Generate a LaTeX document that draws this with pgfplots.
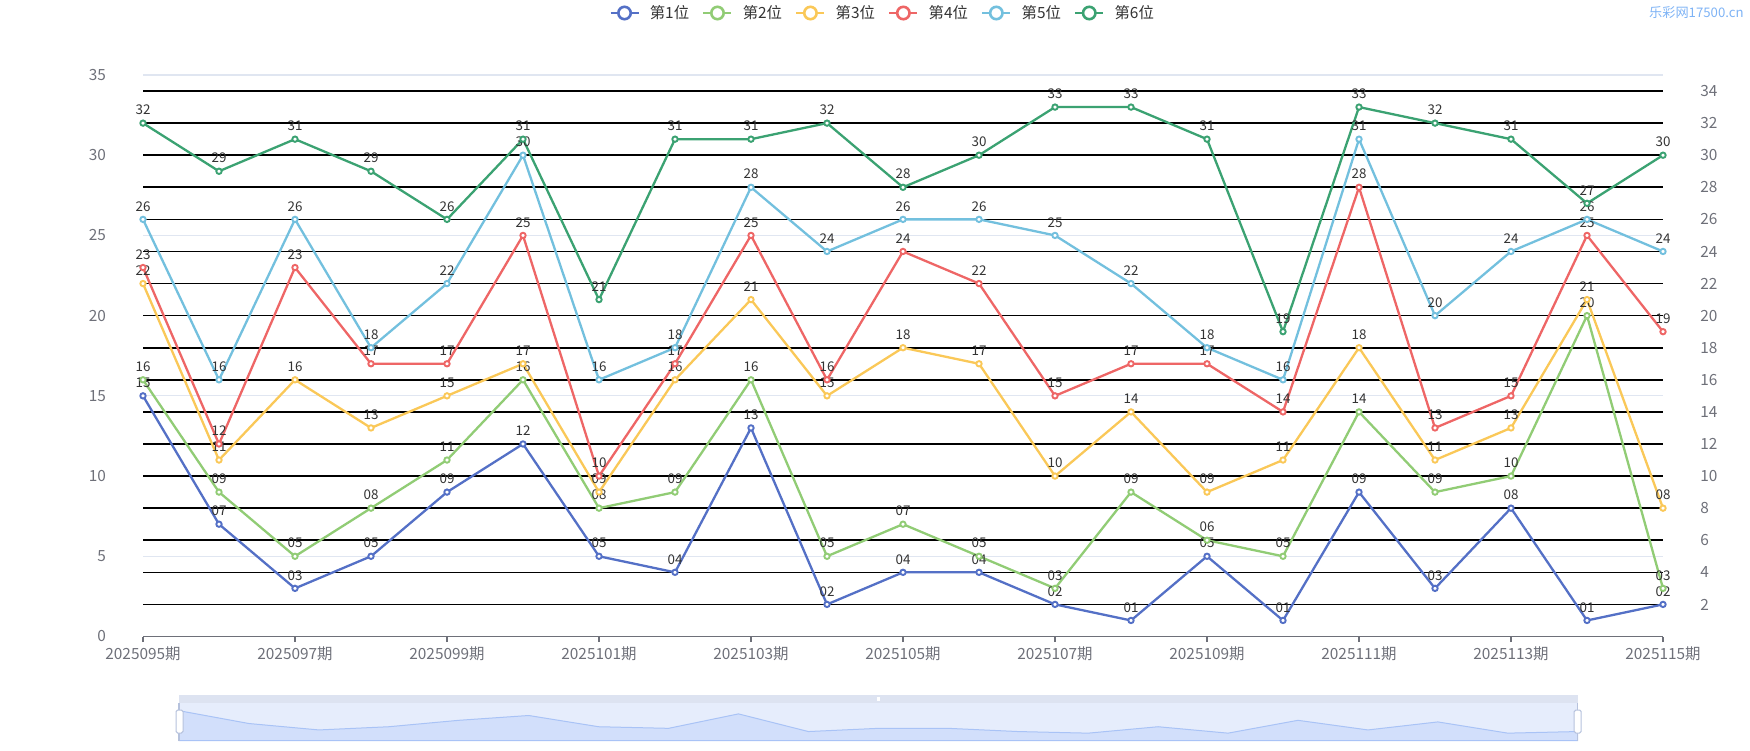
\documentclass[border=0pt]{standalone}
\usepackage{fontspec}
\setmainfont{Noto Sans CJK SC}
\usepackage{pgfplots}
\pgfplotsset{compat=1.18}
\usepackage{pgfplotstable}

\definecolor{c1}{HTML}{5470C6}
\definecolor{c2}{HTML}{91CC75}
\definecolor{c3}{HTML}{FAC858}
\definecolor{c4}{HTML}{EE6666}
\definecolor{c5}{HTML}{73C0DE}
\definecolor{c6}{HTML}{3BA272}
\definecolor{axisgray}{HTML}{6E7079}
\definecolor{gridgray}{HTML}{E0E6F1}
\definecolor{labelgray}{HTML}{333333}
\definecolor{wm}{HTML}{7EB3F5}
\definecolor{dzbar}{HTML}{DDE3F1}
\definecolor{dzbg}{HTML}{E6EDFC}
\definecolor{dzfill}{HTML}{D2DFFB}
\definecolor{dzline}{HTML}{A9C3F6}
\definecolor{dzedge}{HTML}{B6C2DD}

\pgfplotstableread{
x a b c d e f
0 15 16 22 23 26 32
1 7 9 11 12 16 29
2 3 5 16 23 26 31
3 5 8 13 17 18 29
4 9 11 15 17 22 26
5 12 16 17 25 30 31
6 5 8 9 10 16 21
7 4 9 16 17 18 31
8 13 16 21 25 28 31
9 2 5 15 16 24 32
10 4 7 18 24 26 28
11 4 5 17 22 26 30
12 2 3 10 15 25 33
13 1 9 14 17 22 33
14 5 6 9 17 18 31
15 1 5 11 14 16 19
16 9 14 18 28 31 33
17 3 9 11 13 20 32
18 8 10 13 15 24 31
19 1 20 21 25 26 27
20 2 3 8 19 24 30
}\data

\pgfplotsset{
  ser/.style={color=#1, line width=1.15pt, mark=*, mark size=1.35pt,
    mark options={fill=white, draw=#1, line width=0.95pt, solid}},
}
\newcommand{\tickfont}{\fontsize{7.7}{9}\selectfont}

\begin{document}
\begin{tikzpicture}
\useasboundingbox (0,0) rectangle (875pt,375pt);

% background axis: left y labels, light grid, x axis
\begin{axis}[
  at={(71.5pt,56.75pt)}, anchor=south west,
  scale only axis, width=760pt, height=280.75pt,
  xmin=0, xmax=20, ymin=0, ymax=35,
  axis x line*=bottom, axis y line*=left,
  x axis line style={draw=axisgray, line width=0.55pt, -},
  y axis line style={draw=none},
  xtick={0,2,...,20},
  xticklabels={2025095期,2025097期,2025099期,2025101期,2025103期,2025105期,2025107期,2025109期,2025111期,2025113期,2025115期},
  xtick style={draw=axisgray, line width=0.55pt},
  ytick={0,5,...,35},
  ytick style={draw=none},
  tick align=outside,
  major tick length=2.8pt,
  ymajorgrids, grid style={draw=gridgray, line width=0.55pt},
  tick label style={font=\tickfont, text=axisgray, inner sep=0pt},
  xticklabel style={anchor=north, yshift=-2pt},
  yticklabel style={anchor=east, xshift=-15.5pt},
  /pgf/number format/assume math mode=true,
  clip=false,
]
\end{axis}

% data axis: right y labels, black grid, series
\begin{axis}[
  at={(71.5pt,56.75pt)}, anchor=south west,
  scale only axis, width=760pt, height=280.75pt,
  xmin=0, xmax=20, ymin=0, ymax=35,
  hide x axis,
  axis y line*=right,
  y axis line style={draw=none},
  ytick={2,4,...,34},
  ytick style={draw=none},
  major tick length=0pt,
  ymajorgrids, grid style={draw=black, line width=0.8pt},
  yticklabel style={font=\tickfont, text=axisgray, inner sep=0pt, anchor=west, xshift=18.5pt},
  /pgf/number format/assume math mode=true,
  clip=false,
  point meta=explicit symbolic,
  nodes near coords={\ifnum\pgfplotspointmeta<10 0\fi\pgfplotspointmeta},
  every node near coord/.append style={font=\fontsize{6.7}{7}\selectfont, text=labelgray, inner sep=0pt, anchor=south, yshift=3.6pt},
  legend style={at={(0.4859,1.1104)}, anchor=center, draw=none, fill=none,
    font=\tickfont, text=labelgray, inner sep=0pt, legend columns=6,
    /tikz/every odd column/.append style={column sep=5pt},
    /tikz/every even column/.append style={column sep=6.5pt},
    nodes={inner sep=0pt}},
  legend image code/.code={
    \draw[#1, line width=1.3pt] (0pt,0pt) -- (14pt,0pt);
    \draw[#1, line width=1.3pt, fill=white] (7pt,0pt) circle (3.1pt);
  },
]
\addplot[ser=c1] table[x=x,y=a,meta=a]{\data};
\addlegendentry{第1位}
\addplot[ser=c2] table[x=x,y=b,meta=b]{\data};
\addlegendentry{第2位}
\addplot[ser=c3] table[x=x,y=c,meta=c]{\data};
\addlegendentry{第3位}
\addplot[ser=c4] table[x=x,y=d,meta=d]{\data};
\addlegendentry{第4位}
\addplot[ser=c5] table[x=x,y=e,meta=e]{\data};
\addlegendentry{第5位}
\addplot[ser=c6] table[x=x,y=f,meta=f]{\data};
\addlegendentry{第6位}
\end{axis}

% watermark
\node[anchor=east, text=wm, font=\fontsize{6.6}{8}\selectfont, inner sep=0pt] at (872pt,368.5pt) {乐彩网17500.cn};

% data zoom slider
\fill[dzbar] (89.5pt,23.35pt) rectangle (788.85pt,27.5pt);
\fill[dzbg] (89.5pt,4.65pt) rectangle (788.85pt,23.35pt);
\begin{axis}[
  at={(89.5pt,4.65pt)}, anchor=south west,
  scale only axis, width=699.35pt, height=18.7pt,
  xmin=0, xmax=20, ymin=0, ymax=23.3,
  hide axis, clip=false,
]
\addplot[draw=dzline, line width=0.5pt, fill=dzfill, mark=none] table[x=x, y expr=\thisrow{a}+3.7]{\data} \closedcycle;
\end{axis}
\draw[dzedge, line width=0.6pt] (89.5pt,4.65pt) -- (89.5pt,23.35pt);
\draw[dzedge, line width=0.6pt] (788.85pt,4.65pt) -- (788.85pt,23.35pt);
\draw[white, line width=0.3pt] (438.6pt,24.4pt) -- (438.6pt,26.4pt);
\draw[white, line width=0.3pt] (439.2pt,24.4pt) -- (439.2pt,26.4pt);
\draw[white, line width=0.3pt] (439.8pt,24.4pt) -- (439.8pt,26.4pt);
\draw[fill=white, draw=dzedge, line width=0.5pt, rounded corners=0.8pt] (88pt,8.5pt) rectangle (91.5pt,20pt);
\draw[fill=white, draw=dzedge, line width=0.5pt, rounded corners=0.8pt] (787.1pt,8.5pt) rectangle (790.6pt,20pt);
\end{tikzpicture}
\end{document}
